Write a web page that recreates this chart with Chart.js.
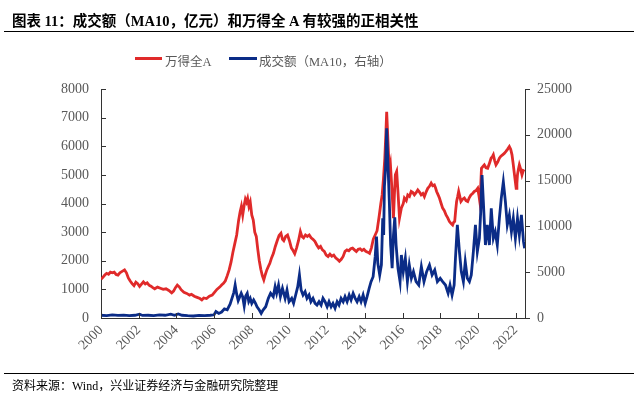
<!DOCTYPE html>
<html>
<head>
<meta charset="utf-8">
<script src="https://cdn.jsdelivr.net/npm/chart.js@4"></script>
<style>
  body { margin: 0; background: #fff; }
  #wrap { position: relative; width: 638px; height: 393px; overflow: hidden; }
  #wrap canvas { position: absolute; left: 0; top: 0; }
  .title { position: absolute; left: 12px; top: 9px; font: bold 14.5px "Liberation Serif", "Noto Sans CJK SC", serif; color: #000; white-space: nowrap; }
  .rule { position: absolute; left: 4px; width: 630px; height: 1px; background: #000; }
  .leg { position: absolute; top: 51px; font: 12.5px "Liberation Serif", "Noto Sans CJK SC", serif; color: #595959; white-space: nowrap; }
  .swatch { position: absolute; top: 57px; height: 3px; }
  .source { position: absolute; left: 12px; top: 376px; font: 12px "Liberation Serif", "Noto Sans CJK SC", serif; color: #000; white-space: nowrap; }
</style>
</head>
<body>
<div id="wrap">
  <canvas id="myChart" width="638" height="393"></canvas>
  <div class="title">图表 11：成交额（MA10，亿元）和万得全 A 有较强的正相关性</div>
  <div class="rule" style="top:31px"></div>
  <div class="swatch" style="left:135px;width:27px;background:#E02A2A"></div>
  <div class="leg" style="left:165px">万得全A</div>
  <div class="swatch" style="left:229px;width:28px;background:#0B2C87"></div>
  <div class="leg" style="left:259px">成交额（MA10，右轴）</div>
  <div class="rule" style="top:373px"></div>
  <div class="source">资料来源：Wind，兴业证券经济与金融研究院整理</div>
</div>
<script>
// tick values
const xTickYears = [2000, 2002, 2004, 2006, 2008, 2010, 2012, 2014, 2016, 2018, 2020, 2022];
const leftTicks = [0, 1000, 2000, 3000, 4000, 5000, 6000, 7000, 8000];
const rightTicks = [0, 5000, 10000, 15000, 20000, 25000];

// 万得全A (left axis)
const allAYears = [
  2000.00, 2000.10, 2000.20, 2000.30, 2000.40, 2000.50, 2000.60, 2000.70, 2000.80, 2000.90,
  2001.00, 2001.10, 2001.25, 2001.35, 2001.45, 2001.55, 2001.65, 2001.75, 2001.85, 2001.95,
  2002.05, 2002.15, 2002.25, 2002.35, 2002.45, 2002.55, 2002.65, 2002.75, 2002.85, 2003.00,
  2003.15, 2003.30, 2003.45, 2003.60, 2003.75, 2003.85, 2003.95, 2004.05, 2004.15, 2004.25,
  2004.40, 2004.55, 2004.70, 2004.80, 2004.95, 2005.10, 2005.25, 2005.35, 2005.45, 2005.60,
  2005.75, 2005.90, 2006.00, 2006.15, 2006.30, 2006.40, 2006.50, 2006.60, 2006.70, 2006.80,
  2006.90, 2007.00, 2007.10, 2007.20, 2007.30, 2007.38, 2007.45, 2007.52, 2007.60, 2007.66,
  2007.72, 2007.78, 2007.85, 2007.92, 2008.00, 2008.08, 2008.16, 2008.24, 2008.32, 2008.40,
  2008.48, 2008.56, 2008.64, 2008.72, 2008.80, 2008.88, 2008.96, 2009.05, 2009.15, 2009.25,
  2009.35, 2009.45, 2009.55, 2009.63, 2009.70, 2009.80, 2009.90, 2010.00, 2010.10, 2010.20,
  2010.28, 2010.38, 2010.48, 2010.58, 2010.66, 2010.75, 2010.85, 2010.95, 2011.05, 2011.15,
  2011.25, 2011.35, 2011.45, 2011.55, 2011.65, 2011.75, 2011.85, 2011.95, 2012.05, 2012.15,
  2012.25, 2012.35, 2012.45, 2012.55, 2012.65, 2012.75, 2012.85, 2012.95, 2013.05, 2013.15,
  2013.25, 2013.35, 2013.45, 2013.55, 2013.65, 2013.75, 2013.85, 2013.95, 2014.05, 2014.15,
  2014.25, 2014.35, 2014.45, 2014.55, 2014.65, 2014.77, 2014.85, 2014.92, 2014.99, 2015.06,
  2015.12, 2015.16, 2015.20, 2015.24, 2015.30, 2015.36, 2015.42, 2015.47, 2015.52, 2015.57,
  2015.62, 2015.69, 2015.76, 2015.84, 2015.94, 2016.04, 2016.10, 2016.20, 2016.28, 2016.37,
  2016.46, 2016.55, 2016.63, 2016.72, 2016.81, 2016.90, 2016.99, 2017.08, 2017.16, 2017.25,
  2017.34, 2017.43, 2017.52, 2017.60, 2017.69, 2017.75, 2017.81, 2017.89, 2017.96, 2018.05,
  2018.13, 2018.22, 2018.31, 2018.40, 2018.49, 2018.58, 2018.66, 2018.72, 2018.77, 2018.82,
  2018.87, 2018.93, 2018.98, 2019.04, 2019.10, 2019.19, 2019.28, 2019.37, 2019.46, 2019.54,
  2019.63, 2019.72, 2019.81, 2019.90, 2019.99, 2020.05, 2020.10, 2020.15, 2020.19, 2020.27,
  2020.34, 2020.43, 2020.52, 2020.61, 2020.70, 2020.78, 2020.82, 2020.89, 2020.96, 2021.05,
  2021.14, 2021.22, 2021.31, 2021.40, 2021.49, 2021.58, 2021.67, 2021.74, 2021.81, 2021.87,
  2021.92, 2021.98, 2022.03, 2022.07, 2022.10, 2022.15, 2022.20, 2022.27, 2022.34, 2022.41,
  2022.48
];
const allAValues = [
  1350, 1420, 1500, 1560, 1530, 1600, 1580, 1600, 1520, 1500,
  1580, 1620, 1680, 1580, 1400, 1290, 1200, 1130, 1250, 1200,
  1100, 1180, 1260, 1190, 1230, 1150, 1110, 1060, 1020, 1080,
  1040, 1000, 1020, 960, 880, 940, 1060, 1150, 1090, 990,
  900, 860, 800, 830, 760, 720, 680, 630, 700, 680,
  760, 800, 880, 1000, 1080, 1150, 1210, 1300, 1480, 1680,
  1950, 2300, 2600, 2900, 3400, 3700, 3900, 3600, 3950, 4150,
  4050, 4180, 3900, 4050, 3600, 3420, 3000, 2850, 2400, 2000,
  1700, 1480, 1330, 1520, 1680, 1800, 1910, 2100, 2260, 2500,
  2700, 2880, 2960, 2750, 2700, 2850, 2900, 2700, 2450, 2350,
  2250, 2450, 2700, 3020, 2850, 2800, 2900, 2850, 2900, 2800,
  2750, 2680, 2550, 2450, 2500, 2380, 2330, 2200, 2150, 2230,
  2160, 2200, 2100, 2050, 1980, 2050, 2150, 2330, 2380, 2350,
  2420, 2440, 2380, 2320, 2400, 2420, 2360, 2400, 2330, 2300,
  2260, 2450, 2750, 2900, 3050, 3600, 4000, 4300, 4880, 5580,
  6500, 7200, 6600, 6000, 5120, 5350, 4700, 4100, 3490, 4300,
  5000, 5120, 4400, 3490, 3840, 4000, 4190, 4100, 4300, 4250,
  4420, 4380, 4300, 4380, 4475, 4400, 4300, 4350, 4240, 4400,
  4530, 4600, 4710, 4620, 4650, 4550, 4420, 4300, 4190, 4000,
  3840, 3750, 3600, 3500, 3370, 3300, 3250, 3350, 3370, 3750,
  4070, 4250, 4420, 4250, 4070, 4150, 4190, 4100, 4070, 4200,
  4300, 4350, 4420, 4450, 4530, 4300, 4070, 4600, 5230, 5300,
  5350, 5250, 5230, 5400, 5580, 5650, 5700, 5500, 5350, 5450,
  5580, 5650, 5700, 5750, 5820, 5900, 5990, 5900, 5700, 5400,
  5120, 4800, 4530, 4700, 5000, 5200, 5350, 5200, 5000, 5150,
  5120
];

// 成交额 MA10 (right axis)
const turnoverYears = [
  2000.00, 2000.30, 2000.60, 2000.90, 2001.20, 2001.50, 2001.80, 2002.05, 2002.20, 2002.50,
  2002.80, 2003.10, 2003.40, 2003.70, 2003.90, 2004.10, 2004.30, 2004.60, 2004.90, 2005.20,
  2005.50, 2005.80, 2006.00, 2006.10, 2006.25, 2006.40, 2006.55, 2006.70, 2006.85, 2006.95,
  2007.05, 2007.12, 2007.20, 2007.28, 2007.36, 2007.44, 2007.52, 2007.60, 2007.68, 2007.76,
  2007.84, 2007.92, 2008.00, 2008.10, 2008.20, 2008.28, 2008.40, 2008.50, 2008.60, 2008.74,
  2008.88, 2009.00, 2009.14, 2009.24, 2009.32, 2009.42, 2009.52, 2009.63, 2009.77, 2009.87,
  2009.98, 2010.12, 2010.22, 2010.33, 2010.44, 2010.53, 2010.62, 2010.72, 2010.83, 2010.93,
  2011.04, 2011.14, 2011.25, 2011.36, 2011.46, 2011.57, 2011.68, 2011.78, 2011.89, 2012.00,
  2012.10, 2012.21, 2012.31, 2012.42, 2012.53, 2012.63, 2012.74, 2012.85, 2012.95, 2013.06,
  2013.17, 2013.27, 2013.38, 2013.49, 2013.59, 2013.70, 2013.80, 2013.91, 2014.02, 2014.12,
  2014.23, 2014.33, 2014.44, 2014.55, 2014.62, 2014.69, 2014.79, 2014.88, 2014.95, 2015.00,
  2015.04, 2015.10, 2015.16, 2015.23, 2015.30, 2015.37, 2015.45, 2015.52, 2015.59, 2015.66,
  2015.76, 2015.87, 2015.94, 2016.04, 2016.15, 2016.26, 2016.36, 2016.47, 2016.58, 2016.72,
  2016.86, 2017.00, 2017.14, 2017.28, 2017.43, 2017.57, 2017.71, 2017.85, 2018.00, 2018.13,
  2018.28, 2018.42, 2018.52, 2018.63, 2018.74, 2018.81, 2018.91, 2019.02, 2019.12, 2019.23,
  2019.33, 2019.44, 2019.55, 2019.65, 2019.76, 2019.87, 2019.97, 2020.08, 2020.15, 2020.22,
  2020.29, 2020.40, 2020.50, 2020.61, 2020.71, 2020.82, 2020.92, 2021.03, 2021.14, 2021.24,
  2021.35, 2021.46, 2021.56, 2021.67, 2021.78, 2021.88, 2021.99, 2022.10, 2022.20, 2022.31,
  2022.42, 2022.48
];
const turnoverValues = [
  300, 250, 350, 280, 320, 250, 300, 420, 280, 300,
  250, 350, 300, 420, 300, 450, 300, 250, 220, 280,
  250, 300, 350, 700, 500, 650, 1000, 900, 1500, 2150,
  2800, 3600, 2600, 1900, 2300, 2700, 2300, 1300, 2400, 2700,
  1800, 2150, 1600, 1970, 1600, 1230, 870, 510, 870, 1230,
  2150, 2700, 2330, 3420, 2700, 3600, 2330, 3240, 2150, 3060,
  1780, 2150, 1600, 2510, 3420, 4700, 3060, 2510, 2880, 2150,
  2510, 1780, 2150, 1600, 1420, 1780, 1420, 2150, 1780, 1230,
  1780, 1230, 1600, 1060, 1780, 1420, 2150, 1780, 2330, 1780,
  2510, 1970, 2700, 2150, 1780, 2330, 1780, 2510, 1600, 2330,
  3240, 3970, 4510, 6700, 8880, 5970, 4700, 5790, 10880, 9060,
  14340, 16350, 20700, 16700, 12700, 7970, 5430, 9060, 11000, 7970,
  5430, 3970, 6880, 5060, 6520, 3970, 5790, 4330, 5060, 3970,
  3600, 5600, 3970, 5060, 5790, 4700, 5240, 3970, 4330, 3970,
  3600, 2700, 3600, 2510, 3600, 6520, 10160, 7240, 5060, 3970,
  6150, 4330, 3970, 4700, 7240, 10160, 7240, 8700, 11600, 15600,
  12700, 7970, 10160, 7970, 11980, 8700, 9420, 7970, 10880, 13070,
  14880, 12700, 10160, 11250, 9420, 10880, 8700, 10880, 9060, 11250,
  8330, 7600
];

const toPoints = (xs, ys) => xs.map((x, i) => ({ x: x, y: ys[i] }));

// small inward/outward tick marks like the original
const tickMarks = {
  id: 'tickMarks',
  afterDraw(chart) {
    const { ctx, chartArea: a, scales } = chart;
    ctx.save();
    ctx.strokeStyle = '#333';
    ctx.lineWidth = 1;
    ctx.beginPath();
    scales.y.ticks.forEach(t => {
      const y = Math.round(scales.y.getPixelForValue(t.value)) + 0.5;
      ctx.moveTo(a.left, y); ctx.lineTo(a.left + 5, y);
    });
    scales.y1.ticks.forEach(t => {
      const y = Math.round(scales.y1.getPixelForValue(t.value)) + 0.5;
      ctx.moveTo(a.right, y); ctx.lineTo(a.right + 5, y);
    });
    scales.x.ticks.forEach(t => {
      const x = Math.round(scales.x.getPixelForValue(t.value)) + 0.5;
      ctx.moveTo(x, a.bottom); ctx.lineTo(x, a.bottom - 5);
    });
    ctx.stroke();
    ctx.restore();
  }
};

const labelFont = { family: '"Liberation Serif", serif', size: 14 };
const plain = v => String(v);

new Chart(document.getElementById('myChart'), {
  type: 'line',
  data: {
    datasets: [
      {
        label: '成交额（MA10，右轴）',
        data: toPoints(turnoverYears, turnoverValues),
        yAxisID: 'y1',
        borderColor: '#0B2C87',
        borderWidth: 2.8,
        pointRadius: 0,
        order: 0
      },
      {
        label: '万得全A',
        data: toPoints(allAYears, allAValues),
        yAxisID: 'y',
        borderColor: '#E02A2A',
        borderWidth: 2.8,
        pointRadius: 0,
        order: 1
      }
    ]
  },
  options: {
    responsive: false,
    animation: false,
    layout: { padding: { top: 89, left: 0, right: 0, bottom: 0 } },
    plugins: { legend: { display: false }, tooltip: { enabled: false } },
    scales: {
      x: {
        type: 'linear',
        min: 2000,
        max: 2022.5,
        afterBuildTicks: s => { s.ticks = xTickYears.map(v => ({ value: v })); },
        afterFit: s => { s.height = 75; },
        grid: { drawOnChartArea: false, drawTicks: false },
        border: { color: '#333', width: 1 },
        ticks: {
          minRotation: 45, maxRotation: 45, padding: 4,
          color: '#595959', font: labelFont,
          callback: plain
        }
      },
      y: {
        position: 'left',
        min: 0,
        max: 8000,
        afterBuildTicks: s => { s.ticks = leftTicks.map(v => ({ value: v })); },
        afterFit: s => { s.width = 101; },
        grid: { drawOnChartArea: false, drawTicks: false },
        border: { color: '#333', width: 1 },
        ticks: { padding: 12, color: '#595959', font: labelFont, callback: plain }
      },
      y1: {
        position: 'right',
        min: 0,
        max: 25000,
        afterBuildTicks: s => { s.ticks = rightTicks.map(v => ({ value: v })); },
        afterFit: s => { s.width = 113; },
        grid: { drawOnChartArea: false, drawTicks: false },
        border: { color: '#333', width: 1 },
        ticks: { padding: 12, color: '#595959', font: labelFont, callback: plain }
      }
    }
  },
  plugins: [tickMarks]
});
</script>
</body>
</html>
